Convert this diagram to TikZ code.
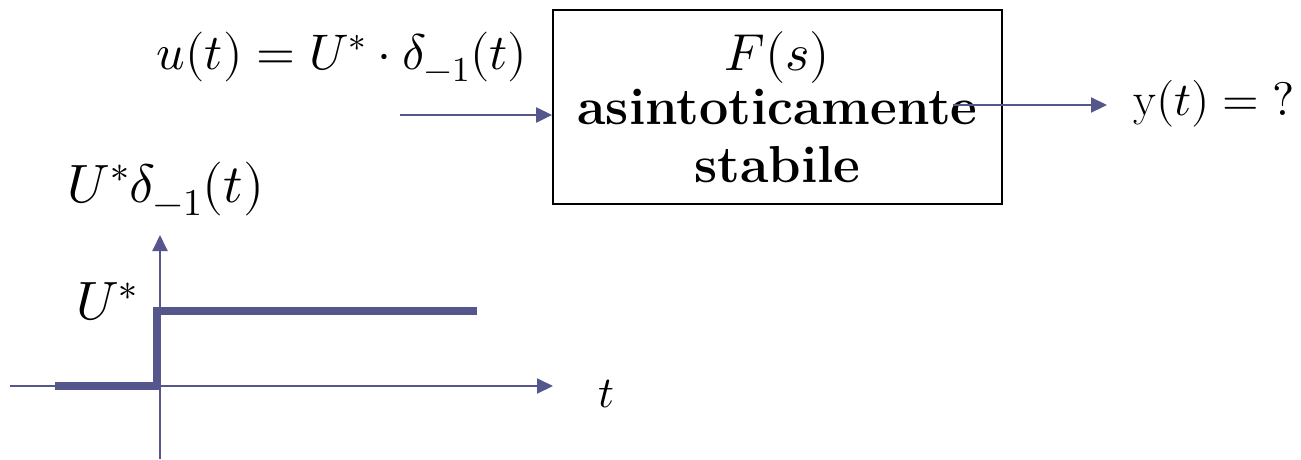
\documentclass[tikz,border=0pt]{standalone}
\usepackage{amsmath}
\usepackage{unicode-math}
\usepackage{tikz}
\usetikzlibrary{arrows.meta}
\definecolor{sigblue}{RGB}{84,86,140}
\newcommand{\fsz}[1]{\fontsize{#1}{#1}\selectfont}
\tikzset{
  lab/.style     ={inner sep=0pt,font=\fsz{44}},
  sysbox/.style  ={draw=black,line width=1.8pt,minimum width=449pt,minimum height=194pt,
                   inner sep=0pt,align=center,font=\fontsize{52}{58}\selectfont\bfseries},
  sigarr/.style  ={draw=sigblue,line width=2.2pt,-{Triangle[length=16pt,width=15pt]}},
  axarr/.style   ={sigarr,line width=2pt},
  stepln/.style  ={draw=sigblue,line width=8pt},
}
\begin{document}
\begin{tikzpicture}[x=1pt,y=-1pt]
  \useasboundingbox (0,0) rectangle (1301,459);
  % block diagram
  \node[sysbox] (sys) at (777.5,107) {$\fsz{38}F(s)$\\[-4pt]asintoticamente\\stabile};
  \node[lab,font=\fsz{50}] (uin) at (342,57) {$u(t) = U^{*}\cdot \delta_{-1}(t)$};
  \node[lab,font=\fsz{47},anchor=west] (yout) at (1133,104) {$\mathrm{y}(t) = ?$};
  \coordinate (ustart) at (400,115);
  \coordinate (ystart) at (953,105);
  \draw[sigarr] (ustart) -- (ustart -| sys.west);
  \draw[sigarr,shorten >=26pt] (ystart) -- (ystart -| yout.west);
  % step input
  \coordinate (xa) at (10,386);
  \coordinate (xb) at (553,386);
  \coordinate (ya) at (160,459);
  \coordinate (yb) at (160,235);
  \draw[axarr] (xa) -- (xb);
  \draw[axarr] (ya) -- (yb);
  \draw[stepln] (55,386) -| (157,311) -- (477,311);
  \node[lab] (tlab) at (606,394) {$t$};
  \node[lab,font=\fsz{54}] (ulev) at (107,302) {$U^{*}$};
  \node[lab,font=\fsz{54}] (ustep) at (166,189) {$U^{*}\delta_{-1}(t)$};
\end{tikzpicture}
\end{document}
